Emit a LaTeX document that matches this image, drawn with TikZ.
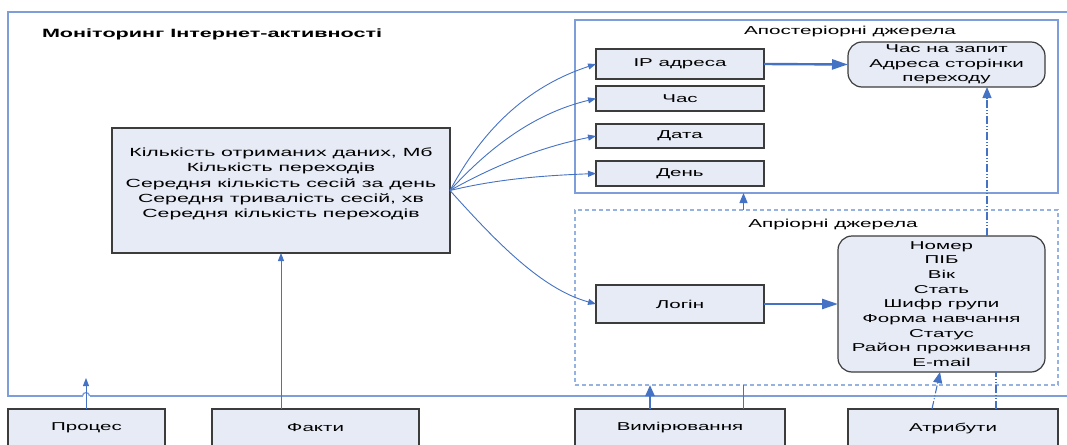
\documentclass[tikz,border=0pt]{standalone}
\usepackage{fontspec}
\setmainfont{Liberation Sans}[FakeStretch=1.8]
\usetikzlibrary{arrows.meta,calc}
\definecolor{boxfill}{RGB}{231,235,246}
\definecolor{boxline}{RGB}{60,60,60}
\definecolor{conn}{RGB}{68,114,196}
\definecolor{frameblue}{RGB}{125,158,216}
\definecolor{dashblue}{RGB}{150,178,225}
\begin{document}
\begin{tikzpicture}[x=1pt,y=-1pt,
  every node/.style={inner sep=0pt,outer sep=0pt},
  box/.style={draw=boxline,line width=1.2pt,fill=boxfill,font=\fontsize{11.4}{14.7}\selectfont,align=center},
  rbox/.style={box,rounded corners=14pt},
  lab/.style={font=\fontsize{11.5}{14}\selectfont},
  arr/.style={draw=conn,line width=0.9pt,-{Triangle[length=8pt,width=6pt]}},
  thickarr/.style={draw=conn,line width=2.4pt,-{Triangle[length=16pt,width=10pt]}},
  dd/.style={draw=conn,line width=1.1pt,dash pattern=on 8pt off 2pt on 1pt off 2pt on 1pt off 2pt},
  frame/.style={draw=frameblue,line width=1.3pt},
  dframe/.style={draw=dashblue,line width=1.1pt,dash pattern=on 4pt off 3pt},
]
\clip (0,0) rectangle (1067,444);
% outer frame
\draw[frame] (8,12) rectangle (1080,396);
\node[anchor=west,font=\fontsize{12}{14}\selectfont\bfseries] (title) at (42,34) {Моніторинг Інтернет-активності};
% sub frames
\node[frame,minimum width=483pt,minimum height=173pt] (apost) at (816.5,106.5) {};
\node[lab] (apostl) at (850,32) {Апостеріорні джерела};
\node[dframe,minimum width=483pt,minimum height=175pt] (aprior) at (816.5,297.5) {};
\node[lab] (apriorl) at (833,225) {Апріорні джерела};
% main box
\node[box,minimum width=338pt,minimum height=125pt] (main) at (281,190.5) {};
\node[align=center,font=\fontsize{11.8}{15.2}\selectfont] (maintext) at (281,184)
 {Кількість отриманих даних, Мб\\Кількість переходів\\Середня кількість сесій за день\\Середня тривалість сесій, хв\\Середня кількість переходів};
% a posteriori boxes
\node[box,minimum width=168pt,minimum height=30pt] (ip) at (680,64) {IP адреса};
\node[box,minimum width=168pt,minimum height=25pt] (chas) at (680,98.5) {Час};
\node[box,minimum width=168pt,minimum height=24pt] (data) at (680,136) {Дата};
\node[box,minimum width=168pt,minimum height=25pt] (den) at (680,173.5) {День};
\node[rbox,minimum width=197pt,minimum height=45pt] (zapyt) at (946.5,64.5) {Час на запит\\Адреса сторінки\\переходу};
% a priori boxes
\node[box,minimum width=168pt,minimum height=38pt] (login) at (680,304) {Логін};
\node[rbox,minimum width=207pt,minimum height=136pt] (stud) at (941.5,304)
 {Номер\\ПІБ\\Вік\\Стать\\Шифр групи\\Форма навчання\\Статус\\Район проживання\\E-mail};
% bottom boxes
\node[box,minimum width=157pt,minimum height=38pt] (proc) at (86.5,428) {Процес};
\node[box,minimum width=207pt,minimum height=38pt] (fakty) at (315.5,428) {Факти};
\node[box,minimum width=210pt,minimum height=38pt] (vymir) at (680,428) {Вимірювання};
\node[box,minimum width=210pt,minimum height=38pt] (atryb) at (953,428) {Атрибути};
% curved arrows
\draw[arr] (main.east) .. controls +(40,-75) and +(-55,18) .. (ip.west);
\draw[arr] (main.east) .. controls +(50,-55) and +(-50,12) .. (chas.west);
\draw[arr] (main.east) .. controls +(50,-28) and +(-50,10) .. (data.west);
\draw[arr] (main.east) .. controls +(50,-12) and +(-50,2) .. (den.west);
\draw[arr] (main.east) .. controls +(45,50) and +(-55,-15) .. (login.west);
% thick arrows
\draw[thickarr] (ip.east) -- (zapyt.west);
\draw[thickarr] (login.east) -- (stud.west);
% process arrow with hop on the frame
\coordinate (procend) at (86,378);
\fill[white] (82.5,394) rectangle (89.5,398);
\draw[frameblue,line width=1.3pt] (82.5,396) .. controls (82.5,391.5) and (89.5,391.5) .. (89.5,396);
\draw[arr] (proc.north -| procend) -- (procend);
% facts arrow
\draw[arr] (fakty.north -| main.south) -- (main.south);
% measurement
\coordinate (vx) at (650,0);
\coordinate (wx) at (743.5,0);
\draw[draw=conn,line width=2.2pt,-{Triangle[length=11pt,width=9pt]}] (vymir.north -| vx) -- (aprior.south -| vx);
\draw[conn,line width=1.6pt] (vymir.north -| wx) -- (aprior.south -| wx);
\draw[draw=conn,line width=1.2pt,-{Triangle[length=10pt,width=8pt]}] (aprior.north -| wx) -- (apost.south -| wx);
% dash-dot connectors
\coordinate (dx) at (987,0);
\draw[dd,-{Triangle[length=11pt,width=9pt]}] (stud.north -| dx) -- (zapyt.south -| dx);
\coordinate (a1) at (932,0);
\coordinate (a2) at (940,0);
\draw[dd,-{Triangle[length=11pt,width=9pt]}] (atryb.north -| a1) -- (stud.south -| a2);
\coordinate (a3) at (996,0);
\draw[dd] (atryb.north -| a3) -- (stud.south -| a3);
\end{tikzpicture}
\end{document}
